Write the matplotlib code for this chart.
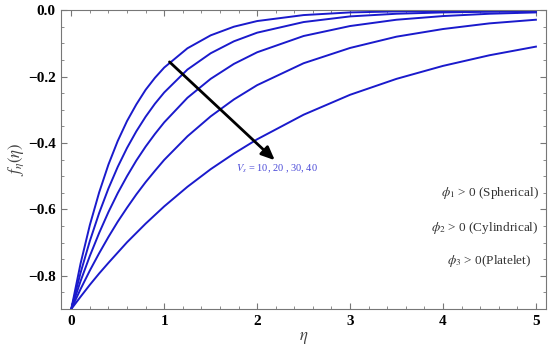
import matplotlib
matplotlib.use('Agg')
import matplotlib.pyplot as plt
from matplotlib.ticker import MultipleLocator, FuncFormatter

plt.rcParams['font.family'] = ['Liberation Serif', 'DejaVu Serif']
plt.rcParams['mathtext.fontset'] = 'stix'

# eta grid and the five profiles (top curve first)
eta = [0.0, 0.1, 0.2, 0.3, 0.4, 0.5, 0.6, 0.7, 0.8, 0.9, 1.0,
       1.25, 1.5, 1.75, 2.0, 2.5, 3.0, 3.5, 4.0, 4.5, 5.0]
f1 = [-0.900, -0.763, -0.647, -0.549, -0.465, -0.394, -0.334, -0.284, -0.240, -0.204, -0.173,
      -0.115, -0.076, -0.050, -0.033, -0.015, -0.007, -0.004, -0.003, -0.002, -0.002]
f2 = [-0.900, -0.791, -0.695, -0.611, -0.537, -0.472, -0.415, -0.365, -0.321, -0.282, -0.248,
      -0.179, -0.130, -0.094, -0.068, -0.036, -0.019, -0.011, -0.007, -0.005, -0.004]
f3 = [-0.900, -0.816, -0.740, -0.671, -0.608, -0.551, -0.500, -0.453, -0.411, -0.373, -0.338,
      -0.264, -0.207, -0.162, -0.127, -0.078, -0.048, -0.029, -0.018, -0.011, -0.007]
f4 = [-0.900, -0.840, -0.784, -0.732, -0.683, -0.637, -0.595, -0.555, -0.518, -0.484, -0.451,
      -0.380, -0.320, -0.269, -0.226, -0.160, -0.114, -0.080, -0.057, -0.040, -0.029]
f5 = [-0.900, -0.863, -0.827, -0.793, -0.761, -0.730, -0.699, -0.671, -0.643, -0.617, -0.591,
      -0.532, -0.479, -0.432, -0.389, -0.315, -0.255, -0.207, -0.168, -0.136, -0.110]
curves = [f1, f2, f3, f4, f5]

arrow_from = (1.057, -0.156)
arrow_to = (2.19, -0.452)
vs_label = r'$V_s$ = 10, 20 , 30, 40'
shape_labels = [r'$\phi_1$ > 0 (Spherical)',
                r'$\phi_2$ > 0 (Cylindrical)',
                r'$\phi_3$ > 0(Platelet)']
shape_y = [-0.551, -0.655, -0.755]
shape_x = [5.03, 5.03, 4.95]

fig = plt.figure(figsize=(5.5, 3.48), dpi=100)
ax = fig.add_axes([0.111, 0.112, 0.882, 0.859])

for f in curves:
    ax.plot(eta, f, color='#1a1acc', lw=1.4)

ax.annotate('', xy=arrow_to, xytext=arrow_from,
            arrowprops=dict(arrowstyle='-|>,head_length=0.8,head_width=0.35',
                            color='black', lw=2, shrinkA=0, shrinkB=0))
ax.text(1.77, -0.477, vs_label, color='#4a4ad8', fontsize=7.5, va='center')
for lab, x, y in zip(shape_labels, shape_x, shape_y):
    ax.text(x, y, lab, color='#333333', fontsize=9.5, ha='right', va='center')

ax.set_xlim(-0.11, 5.11)
ax.set_ylim(-0.9, 0.0)
ax.xaxis.set_major_locator(MultipleLocator(1))
ax.xaxis.set_minor_locator(MultipleLocator(0.2))
ax.yaxis.set_major_locator(MultipleLocator(0.2))
ax.yaxis.set_minor_locator(MultipleLocator(0.05))
ax.yaxis.set_major_formatter(FuncFormatter(lambda v, p: ('%.1f' % v).replace('-', '\u2212')))
ax.tick_params(which='both', direction='in', top=True, right=True, color='#777777')
ax.tick_params(which='major', length=4, labelsize=11, pad=4)
ax.tick_params(which='minor', length=2)
for lab in ax.get_xticklabels() + ax.get_yticklabels():
    lab.set_fontweight('bold')
for s in ax.spines.values():
    s.set_color('#777777')

ax.set_xlabel(r'$\eta$', fontsize=12, color='#444444', labelpad=2)
ax.set_ylabel(r'$f_\eta(\eta)$', fontsize=12, color='#444444', labelpad=1)

fig.savefig('out.png', dpi=100)
